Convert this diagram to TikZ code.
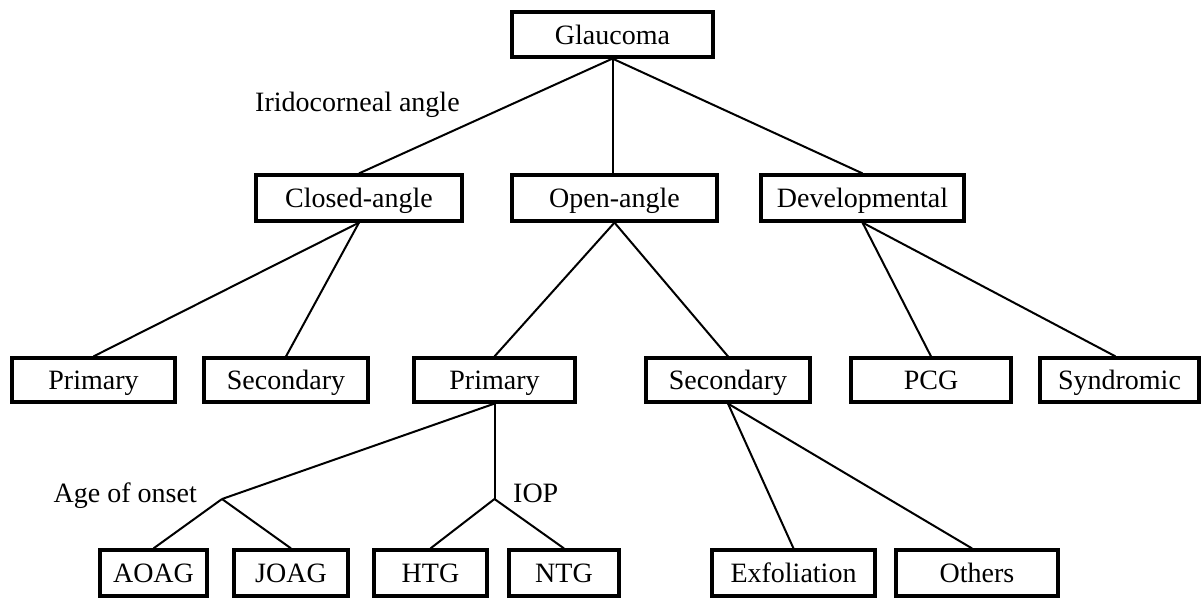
\documentclass[tikz,border=0pt]{standalone}
\usepackage{fontspec}
\setmainfont{Liberation Serif}
\usetikzlibrary{calc}
\begin{document}
\begin{tikzpicture}[x=1pt,y=-1pt,
  box/.style={draw=black, line width=3.2pt, inner sep=0pt, text height=22pt, text depth=3pt, font=\fontsize{28}{32}\selectfont},
  lbl/.style={inner sep=0pt, font=\fontsize{28}{32}\selectfont},
  conn/.style={draw=black, line width=2pt}]
\useasboundingbox (0,0) rectangle (1202,598);
% row 1
\node[box, minimum width=201, minimum height=45] (glau) at (612.5,34.5) {Glaucoma};
% row 2
\node[box, minimum width=206, minimum height=46] (closed) at (359,198) {Closed-angle};
\node[box, minimum width=205, minimum height=46] (open) at (614.5,198) {Open-angle};
\node[box, minimum width=203, minimum height=46] (dev) at (862.5,198) {Developmental};
% row 3
\node[box, minimum width=163, minimum height=44] (prim1) at (93.5,380) {Primary};
\node[box, minimum width=164, minimum height=44] (sec1) at (286,380) {Secondary};
\node[box, minimum width=161, minimum height=44] (prim2) at (494.5,380) {Primary};
\node[box, minimum width=164, minimum height=44] (sec2) at (728,380) {Secondary};
\node[box, minimum width=160, minimum height=44] (pcg) at (931,380) {PCG};
\node[box, minimum width=159, minimum height=44] (synd) at (1119.5,380) {Syndromic};
% row 4
\node[box, minimum width=107, minimum height=46] (aoag) at (153.5,573) {AOAG};
\node[box, minimum width=114, minimum height=46] (joag) at (291,573) {JOAG};
\node[box, minimum width=113, minimum height=46] (htg) at (430.5,573) {HTG};
\node[box, minimum width=110, minimum height=46] (ntg) at (564,573) {NTG};
\node[box, minimum width=163, minimum height=46] (exfo) at (793.5,573) {Exfoliation};
\node[box, minimum width=162, minimum height=46] (oth) at (977,573) {Others};
% labels
\node[lbl, anchor=base west] (irido) at (255,111) {Iridocorneal angle};
\node[lbl, anchor=base east] (age) at (197,502) {Age of onset};
\node[lbl, anchor=base west] (iop) at (513,502) {IOP};
% junctions
\coordinate (jage) at (222,499);
\coordinate (jiop) at (494.5,499);
% connectors
\draw[conn] (glau.south) -- (closed.north);
\draw[conn] (glau.south) -- (glau.south |- open.north);
\draw[conn] (glau.south) -- (dev.north);
\draw[conn] (closed.south) -- (prim1.north);
\draw[conn] (closed.south) -- (sec1.north);
\draw[conn] (open.south) -- (prim2.north);
\draw[conn] (open.south) -- (sec2.north);
\draw[conn] (dev.south) -- (pcg.north);
\draw[conn] (dev.south) -- ($(synd.north)+(-4,0)$);
\draw[conn] (prim2.south) -- (jage);
\draw[conn] (prim2.south) -- (jiop);
\draw[conn] (jage) -- (aoag.north);
\draw[conn] (jage) -- (joag.north);
\draw[conn] (jiop) -- (htg.north);
\draw[conn] (jiop) -- (ntg.north);
\draw[conn] (sec2.south) -- (exfo.north);
\draw[conn] (sec2.south) -- ($(oth.north)+(-5,0)$);
\end{tikzpicture}
\end{document}
